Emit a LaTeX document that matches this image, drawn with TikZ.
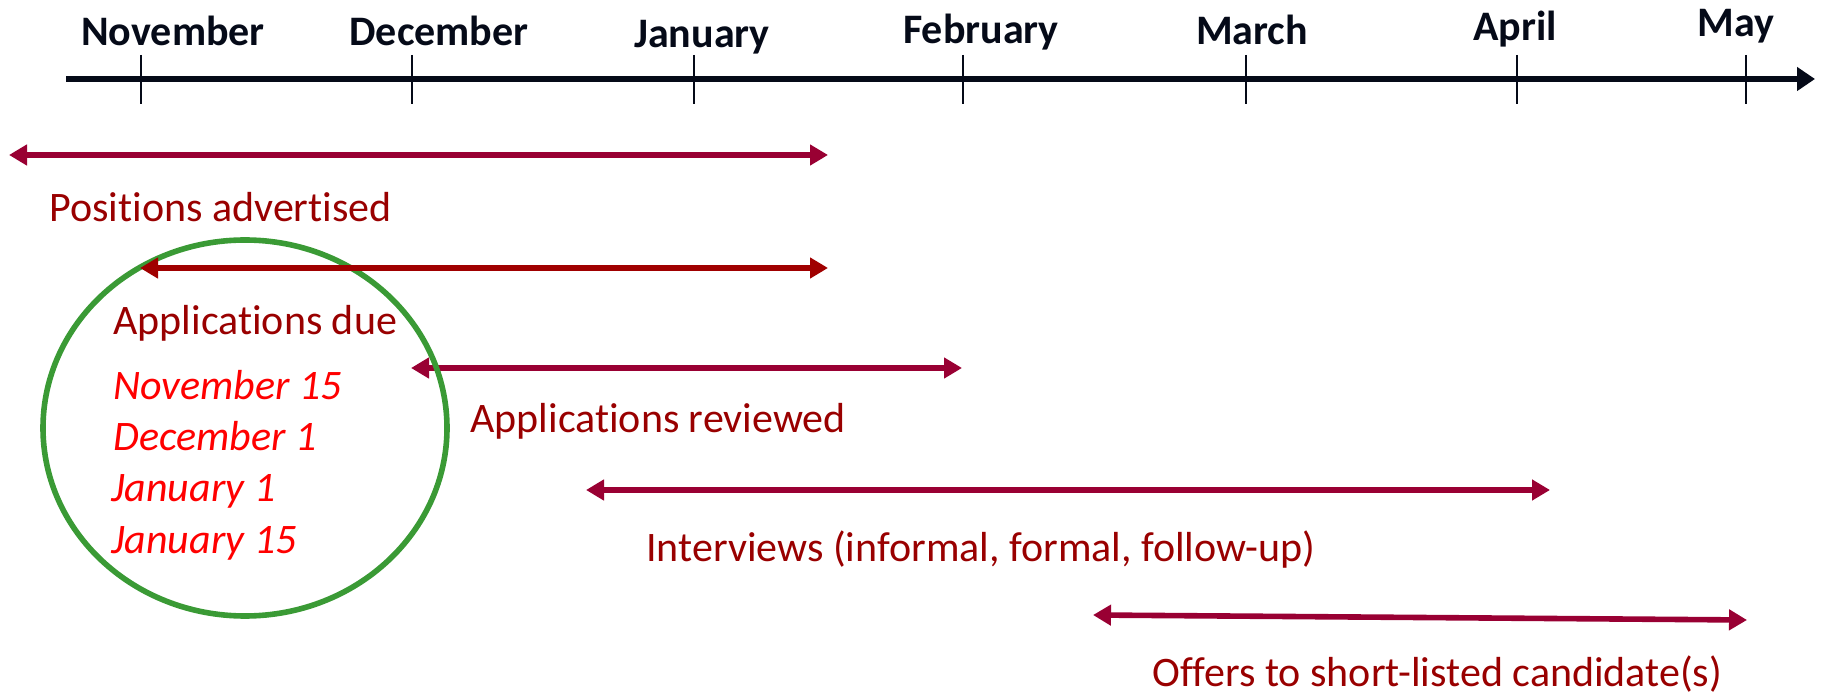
\documentclass[tikz,border=0pt]{standalone}
\usepackage{fontspec}
\setmainfont{Carlito}[Ligatures=NoCommon]
\usetikzlibrary{arrows.meta,shapes.geometric}
\definecolor{arrowred}{HTML}{990033}
\definecolor{duered}{HTML}{A00000}
\definecolor{labelred}{HTML}{990000}
\definecolor{datered}{HTML}{FF0000}
\definecolor{circgreen}{HTML}{3A9A35}
\definecolor{axisblack}{HTML}{050A18}
\tikzset{
  monthlbl/.style={font=\fontsize{21}{25}\selectfont\bfseries, text=axisblack, anchor=base, inner sep=0pt},
  phaselbl/.style={font=\fontsize{21}{25}\selectfont, text=labelred, anchor=base west, inner sep=0pt},
  datelbl/.style={font=\fontsize{21}{25}\selectfont\itshape, text=datered, anchor=base west, inner sep=0pt},
  spanarrow/.style={draw=arrowred, line width=2.8pt, {Triangle[length=9pt,width=10pt]}-{Triangle[length=9pt,width=10pt]}},
  monthtick/.style={draw=axisblack, line width=1pt},
  axisline/.style={draw=axisblack, line width=3pt, -{Triangle[length=9pt,width=11.5pt]}},
  duecircle/.style={draw=circgreen, line width=2.8pt, ellipse, minimum width=202pt, minimum height=188pt, inner sep=0pt}
}
\begin{document}
\begin{tikzpicture}[x=0.5pt,y=-0.5pt]
\useasboundingbox (0,0) rectangle (1824,694);
% axis
\coordinate (axstart) at (66,79);
\coordinate (axend) at (1815,79);
\draw[axisline] (axstart) -- (axend);
% ticks
\foreach \nm/\xx in {nov/141,dec/412,jan/694,feb/963,mar/1246,apr/1517,may/1746}{
  \coordinate (\nm top) at (\xx,55);
  \coordinate (\nm bot) at (\xx,104);
  \draw[monthtick] (\nm top) -- (\nm bot);
}
% month labels
\node[monthlbl] (novlbl) at (173,46) {November};
\node[monthlbl] (declbl) at (439,46) {December};
\node[monthlbl] (janlbl) at (702,48) {January};
\node[monthlbl] (feblbl) at (981,44) {February};
\node[monthlbl] (marlbl) at (1252,45) {March};
\node[monthlbl] (aprlbl) at (1515,41) {April};
\node[monthlbl] (maylbl) at (1736,37) {May};
% positions advertised
\coordinate (pa1) at (9,155);
\coordinate (pa2) at (828,155);
\draw[spanarrow] (pa1) -- (pa2);
\node[phaselbl] (palbl) at (49,222) {Positions advertised};
% applications reviewed (under circle)
\coordinate (ar1) at (411,368);
\coordinate (ar2) at (962,368);
\draw[spanarrow] (ar1) -- (ar2);
\node[phaselbl] (arlbl) at (470,433) {Applications reviewed};
% circle
\node[duecircle] (circ) at (245,428) {};
% applications due
\coordinate (ad1) at (140,268);
\coordinate (ad2) at (828,268);
\draw[spanarrow, draw=duered] (ad1) -- (ad2);
\node[phaselbl] (adlbl) at (113,335) {Applications due};
\node[datelbl] (d1) at (113,400) {November 15};
\node[datelbl] (d2) at (113,451) {December 1};
\node[datelbl] (d3) at (111,502) {January 1};
\node[datelbl] (d4) at (111,553) {January 15};
% interviews
\coordinate (iv1) at (586,490);
\coordinate (iv2) at (1550,490);
\draw[spanarrow] (iv1) -- (iv2);
\node[phaselbl] (ivlbl) at (646,561) {Interviews (informal, formal, follow-up)};
% offers
\coordinate (of1) at (1093,615);
\coordinate (of2) at (1747,620);
\draw[spanarrow] (of1) -- (of2);
\node[phaselbl] (oflbl) at (1152,686) {Offers to short-listed candidate(s)};
\end{tikzpicture}
\end{document}
